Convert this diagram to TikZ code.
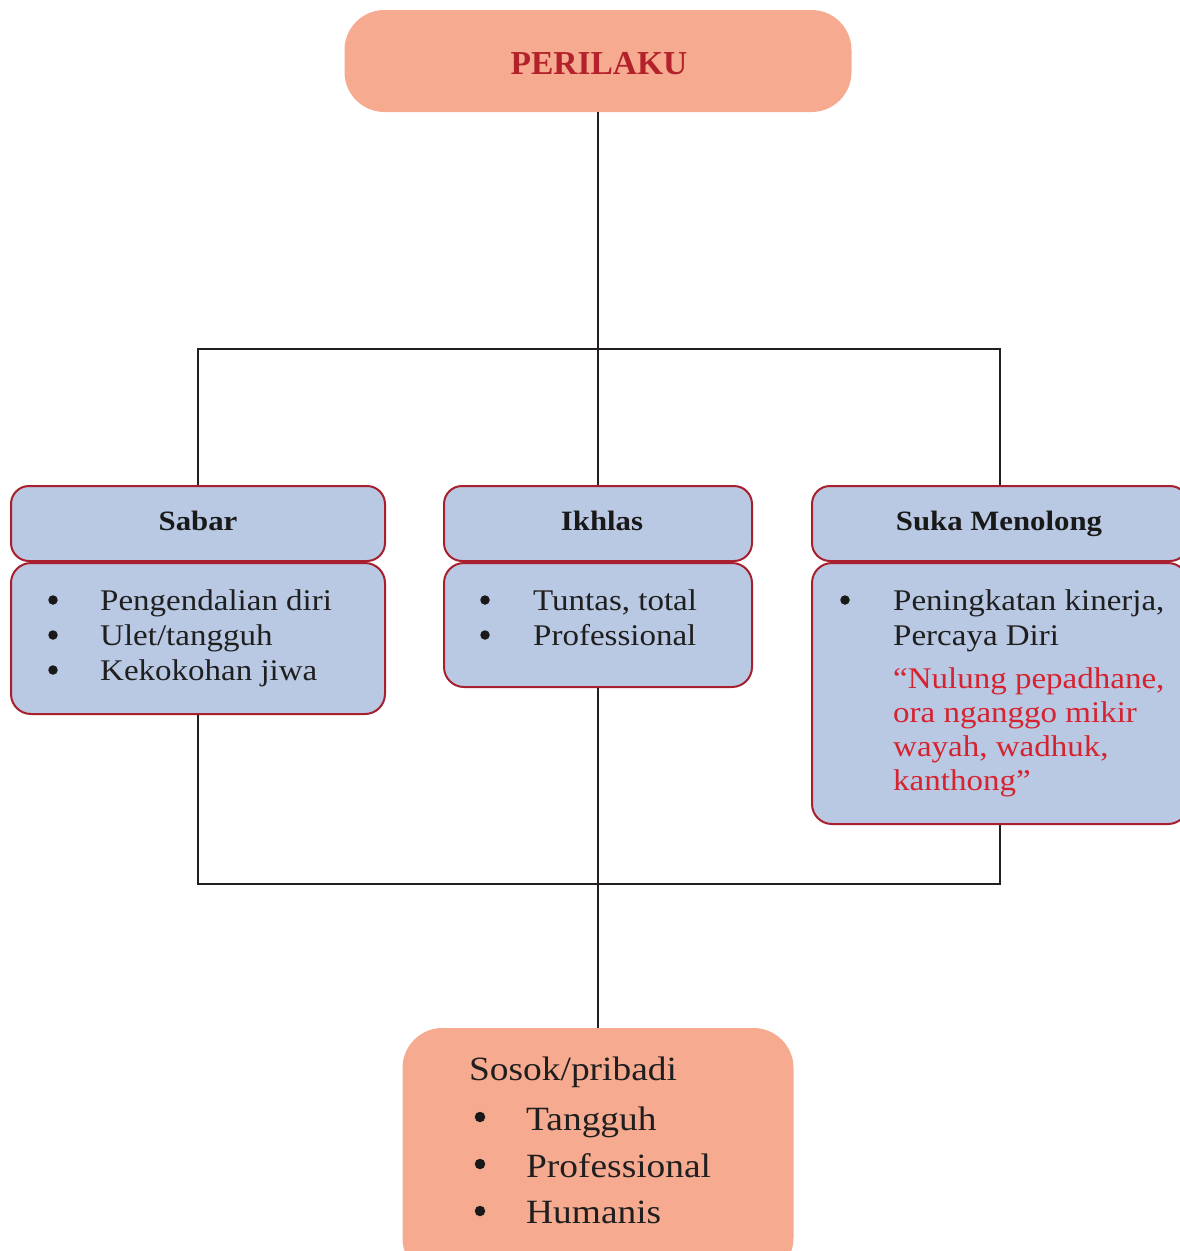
\documentclass[tikz,border=0pt]{standalone}
\usepackage{fontspec}
\setmainfont{Liberation Serif}[FakeStretch=1.1]
\newfontfamily\titlefont{Liberation Serif}
\definecolor{salmon}{HTML}{F6AA90}
\definecolor{paleblue}{HTML}{B9C8E3}
\definecolor{boxred}{HTML}{A8202E}
\definecolor{titlered}{HTML}{B3212B}
\definecolor{quotered}{HTML}{D5232F}
\definecolor{wire}{HTML}{231F20}

\begin{document}
\begin{tikzpicture}[x=1pt,y=-1pt,
  peach/.style={fill=salmon, draw=none, rounded corners=40pt, inner sep=0pt},
  hdrbox/.style={fill=paleblue, draw=boxred, line width=2pt, rounded corners=18pt,
                 minimum height=75pt, inner sep=0pt},
  bodybox/.style={fill=paleblue, draw=boxred, line width=2pt, rounded corners=20pt,
                  inner sep=0pt},
  wirepath/.style={draw=wire, line width=2pt},
  titletxt/.style={anchor=base, inner sep=0pt, text=titlered,
                   font=\titlefont\bfseries\fontsize{33.5}{40}\selectfont},
  hdrtxt/.style={anchor=base, inner sep=0pt, text=black!90,
                 font=\bfseries\fontsize{28}{34}\selectfont},
  txt/.style={anchor=base west, inner sep=0pt, text=black!88,
              font=\fontsize{30}{36}\selectfont},
  redtxt/.style={txt, text=quotered},
  bigtxt/.style={anchor=base west, inner sep=0pt, text=black!88,
                 font=\fontsize{34}{40}\selectfont},
  dot/.style={circle, fill=black!90, draw=none, inner sep=0pt, minimum size=9.5pt},
  bigdot/.style={dot, minimum size=10.5pt},
]
\useasboundingbox (0,0) rectangle (1180,1251);
\clip (0,0) rectangle (1180,1251);

% boxes
\node[peach, minimum width=507pt, minimum height=102pt] (top) at (598,61) {};
\node[hdrbox, minimum width=374pt] (sabH) at (198,523.5) {};
\node[bodybox, minimum width=374pt, minimum height=151pt] (sabB) at (198,638.5) {};
\node[hdrbox, minimum width=308pt] (ikhH) at (598,523.5) {};
\node[bodybox, minimum width=308pt, minimum height=124pt] (ikhB) at (598,625) {};
\node[hdrbox, minimum width=376pt] (sukH) at (1000,523.5) {};
\node[bodybox, minimum width=376pt, minimum height=261pt] (sukB) at (1000,693.5) {};
\node[peach, minimum width=391pt, minimum height=250pt] (soso) at (598,1153) {};

% connectors
\coordinate (busT) at (598,349);
\coordinate (busB) at (598,884);
\draw[wirepath] (top.south) -- (ikhH.north);
\draw[wirepath] (sabH.north) |- (busT) -| (sukH.north);
\draw[wirepath] (sabB.south) |- (busB) -| (sukB.south);
\draw[wirepath] (ikhB.south) -- (soso.north);

% titles
\node[titletxt] (tPer) at (599,74) {PERILAKU};
\node[hdrtxt] (tSab) at (198,530) {Sabar};
\node[hdrtxt] (tIkh) at (602,530) {Ikhlas};
\node[hdrtxt] (tSuk) at (999,530) {Suka Menolong};

% Sabar
\node[dot] (sb1) at (53,600) {};
\node[dot] (sb2) at (53,635) {};
\node[dot] (sb3) at (53,670) {};
\node[txt] (st1) at (100,610) {Pengendalian diri};
\node[txt] (st2) at (100,645) {Ulet/tangguh};
\node[txt] (st3) at (100,680) {Kekokohan jiwa};

% Ikhlas
\node[dot] (ib1) at (485,600) {};
\node[dot] (ib2) at (485,635) {};
\node[txt] (it1) at (533,610) {Tuntas, total};
\node[txt] (it2) at (533,645) {Professional};

% Suka Menolong
\node[dot] (kb1) at (845,600) {};
\node[txt] (kt1) at (893,610) {Peningkatan kinerja,};
\node[txt] (kt2) at (893,645) {Percaya Diri};
\node[redtxt] (kr1) at (893,688) {“Nulung pepadhane,};
\node[redtxt] (kr2) at (893,722) {ora nganggo mikir};
\node[redtxt] (kr3) at (893,756) {wayah, wadhuk,};
\node[redtxt] (kr4) at (893,790) {kanthong”};

% Sosok/pribadi
\node[bigtxt] (pt0) at (469,1080) {Sosok/pribadi};
\node[bigdot] (pb1) at (480,1117) {};
\node[bigdot] (pb2) at (480,1164) {};
\node[bigdot] (pb3) at (480,1211) {};
\node[bigtxt] (pt1) at (526,1130) {Tangguh};
\node[bigtxt] (pt2) at (526,1177) {Professional};
\node[bigtxt] (pt3) at (526,1223) {Humanis};
\end{tikzpicture}
\end{document}
